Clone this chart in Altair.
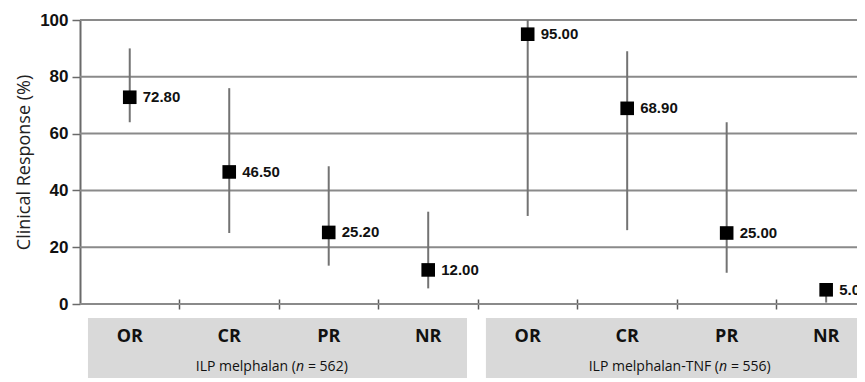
import altair as alt
import pandas as pd

# ---- data ----
categories = ["OR", "CR", "PR", "NR", "OR", "CR", "PR", "NR"]
group_of = [0, 0, 0, 0, 1, 1, 1, 1]
values = [72.80, 46.50, 25.20, 12.00, 95.00, 68.90, 25.00, 5.00]
lower = [64.0, 25.0, 13.5, 5.5, 31.0, 26.0, 11.0, 0.5]
upper = [90.0, 76.0, 48.5, 32.5, 100.0, 89.0, 64.0, 6.0]
group_names = ["ILP melphalan", "ILP melphalan-TNF"]
group_n = ["562", "556"]
y_ticks = [0, 20, 40, 60, 80, 100]

df = pd.DataFrame({
    "idx": list(range(len(categories))),
    "cat": categories,
    "grp": group_of,
    "val": values,
    "lo": lower,
    "hi": upper,
})
df["lab"] = df["val"].map(lambda v: f"{v:.2f}")

gdf = pd.DataFrame({
    "g": [0, 1],
    "name": group_names,
    "n": group_n,
})
gdf["first"] = [df[df.grp == g].idx.min() for g in gdf.g]
gdf["last"] = [df[df.grp == g].idx.max() for g in gdf.g]
gdf["x0"] = gdf["first"] - 0.42
gdf["x1"] = gdf["last"] + 0.39
gdf["mid"] = (gdf["first"] + gdf["last"]) / 2.0
gdf["pre"] = gdf["name"] + " ("
gdf["post"] = "= " + gdf["n"] + ")"

tdf = pd.DataFrame({"t": y_ticks})

W, H = 777, 284
xscale = alt.Scale(domain=[-0.5, 7.31], nice=False, zero=False)
yscale = alt.Scale(domain=[0, 100], nice=False)

xaxis = alt.Axis(values=[0.5, 1.5, 2.5, 3.5, 4.5, 5.5, 6.5], labels=False, grid=False,
                 domain=False, ticks=True, tickSize=10, tickColor="#5a5a5a",
                 tickWidth=1.5, offset=-5, title=None)
yaxis = alt.Axis(values=y_ticks, grid=False, title="Clinical Response (%)")

base = alt.Chart(df)

grid = alt.Chart(tdf).mark_rule(color="#8a8a8a", strokeWidth=2).encode(
    y=alt.Y("t:Q", scale=yscale, axis=yaxis),
    x=alt.value(0),
    x2=alt.value(W),
)

boxes = alt.Chart(gdf).mark_rect(color="#d9d9d9", clip=False).encode(
    x=alt.X("x0:Q", scale=xscale, axis=xaxis),
    x2="x1:Q",
    y=alt.value(298),
    y2=alt.value(372),
)

bars = base.mark_rule(color="#737373", strokeWidth=2).encode(
    x=alt.X("idx:Q", scale=xscale, axis=xaxis),
    y=alt.Y("lo:Q", scale=yscale, axis=yaxis),
    y2="hi:Q",
)

pts = base.mark_square(size=185, color="#000000", opacity=1).encode(
    x=alt.X("idx:Q", scale=xscale, axis=xaxis),
    y=alt.Y("val:Q", scale=yscale, axis=yaxis),
)

labs = base.mark_text(align="left", baseline="middle", dx=13, fontSize=15,
                      fontWeight="bold", font="Liberation Sans", color="#111111",
                      clip=True).encode(
    x=alt.X("idx:Q", scale=xscale, axis=xaxis),
    y=alt.Y("val:Q", scale=yscale, axis=yaxis),
    text="lab:N",
)

catlabs = base.mark_text(align="center", baseline="middle", fontSize=18,
                         fontWeight="bold", font="Open Sans", color="#111111").encode(
    x=alt.X("idx:Q", scale=xscale, axis=xaxis),
    y=alt.value(317),
    text="cat:N",
)

n_dx = [21, 46]
glayers = []
for g in range(len(group_names)):
    sub = alt.Chart(gdf[gdf.g == g])
    glayers.append(sub.mark_text(align="right", baseline="middle", fontSize=14,
                                 font="Open Sans", color="#111111", dx=n_dx[g] - 4).encode(
        x=alt.X("mid:Q", scale=xscale, axis=xaxis), y=alt.value(347), text="pre:N"))
    glayers.append(sub.mark_text(align="center", baseline="middle", fontSize=14,
                                 font="Open Sans", fontStyle="italic", color="#111111",
                                 dx=n_dx[g]).encode(
        x=alt.X("mid:Q", scale=xscale, axis=xaxis), y=alt.value(347), text=alt.value("n")))
    glayers.append(sub.mark_text(align="left", baseline="middle", fontSize=14,
                                 font="Open Sans", color="#111111", dx=n_dx[g] + 8).encode(
        x=alt.X("mid:Q", scale=xscale, axis=xaxis), y=alt.value(347), text="post:N"))

chart = alt.layer(grid, boxes, bars, pts, labs, catlabs, *glayers).properties(
    width=W, height=H,
    background="white",
    autosize=alt.AutoSizeParams(type="none"),
    padding={"left": 72, "top": 12, "right": 0, "bottom": 74},
).configure_view(strokeWidth=0).configure_axisY(
    grid=False,
    domainColor="#6a6a6a", domainWidth=2, tickColor="#6a6a6a", tickWidth=1.5,
    tickSize=8, labelFontSize=17, labelFontWeight="bold",
    labelFont="Liberation Sans", labelColor="#111111", labelPadding=4,
    titleFont="Open Sans", titleFontSize=18, titleFontWeight="normal",
    titleColor="#222222", titlePadding=6,
)

chart.save("out.html", embed_options={"renderer": "svg", "actions": False})
